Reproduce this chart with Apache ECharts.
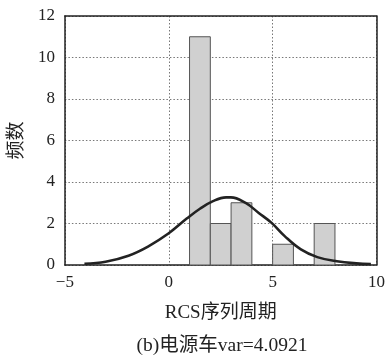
<!DOCTYPE html>
<html>
<head>
<meta charset="utf-8">
<script src="https://cdn.jsdelivr.net/npm/echarts@6/dist/echarts.min.js"></script>
<style>html,body{margin:0;padding:0;background:#fff}#c{width:388px;height:356px}</style>
</head>
<body>
<div id="c"></div>
<script>
// Histogram bins: [start, end]
const binStarts = [1, 2, 3, 5, 7];
const binEnds   = [2, 3, 4, 6, 8];
const binCounts = [11, 2, 3, 1, 2];
// Fitted curve
const curveX = [-4.06, -3.04, -1.94, -1.0, 0.0, 0.88, 1.5, 2.13, 2.76, 2.99, 3.7, 4.33, 4.95, 5.58, 6.36, 7.15, 8.09, 9.03, 9.73];
const curveY = [0.06, 0.16, 0.45, 0.89, 1.53, 2.25, 2.71, 3.08, 3.26, 3.26, 2.99, 2.51, 2.03, 1.39, 0.75, 0.38, 0.18, 0.08, 0.05];
const xTicks = [-5, 0, 5, 10];
const yTicks = [0, 2, 4, 6, 8, 10, 12];
const xName = 'RCS序列周期';
const yName = '频数';
const caption = '(b)电源车var=4.0921';

const FONT = "'Liberation Serif', 'Noto Sans CJK SC', serif";
const bins = binStarts.map((s, i) => [s, binEnds[i], binCounts[i]]);
const curve = curveX.map((x, i) => [x, curveY[i]]);

const chart = echarts.init(document.getElementById('c'), null, {renderer: 'canvas'});
const gridLine = {show: true, lineStyle: {color: '#777', type: [1.5, 2], width: 1}};
chart.setOption({
  animation: false,
  backgroundColor: '#fff',
  title: {
    text: caption, left: 217, top: 331, textAlign: 'center',
    textStyle: {fontFamily: FONT, fontSize: 19.5, fontWeight: 'normal', color: '#222'}
  },
  grid: {left: 62, right: 7, top: 16, bottom: 91},
  xAxis: [{
    type: 'value', min: xTicks[0], max: xTicks[xTicks.length - 1], interval: 5,
    name: xName, nameLocation: 'middle', nameGap: 39,
    nameTextStyle: {fontFamily: FONT, fontSize: 19, color: '#222'},
    axisLine: {show: true, onZero: false, lineStyle: {color: '#222', width: 1.5}},
    axisTick: {show: false},
    axisLabel: {fontFamily: FONT, fontSize: 17, color: '#222', margin: 9,
      formatter: v => (v < 0 ? '\u2212' + Math.abs(v) : String(v))},
    splitLine: gridLine
  }, {
    type: 'value', position: 'top', min: xTicks[0], max: xTicks[xTicks.length - 1],
    axisLine: {show: true, onZero: false, lineStyle: {color: '#222', width: 1.5}},
    axisTick: {show: false}, axisLabel: {show: false}, splitLine: {show: false}
  }],
  yAxis: [{
    type: 'value', min: yTicks[0], max: yTicks[yTicks.length - 1], interval: 2,
    name: yName, nameLocation: 'middle', nameGap: 34, nameRotate: 90,
    nameTextStyle: {fontFamily: FONT, fontSize: 19, color: '#222'},
    axisLine: {show: true, onZero: false, lineStyle: {color: '#222', width: 1.5}},
    axisTick: {show: false},
    axisLabel: {fontFamily: FONT, fontSize: 17, color: '#222', margin: 10},
    splitLine: gridLine
  }, {
    type: 'value', position: 'right', min: yTicks[0], max: yTicks[yTicks.length - 1],
    axisLine: {show: true, onZero: false, lineStyle: {color: '#222', width: 1.5}},
    axisTick: {show: false}, axisLabel: {show: false}, splitLine: {show: false}
  }],
  series: [{
    type: 'custom',
    data: bins,
    encode: {x: [0, 1], y: 2},
    renderItem: function (params, api) {
      const p0 = api.coord([api.value(0), api.value(2)]);
      const p1 = api.coord([api.value(1), 0]);
      return {
        type: 'rect',
        shape: {x: p0[0], y: p0[1], width: p1[0] - p0[0], height: p1[1] - p0[1]},
        style: {fill: '#d0d0d0', stroke: '#555', lineWidth: 1}
      };
    },
    z: 2
  }, {
    type: 'line',
    data: curve,
    smooth: 0.4,
    symbol: 'none',
    lineStyle: {color: '#222', width: 2.6},
    z: 3
  }]
});
</script>
</body>
</html>
